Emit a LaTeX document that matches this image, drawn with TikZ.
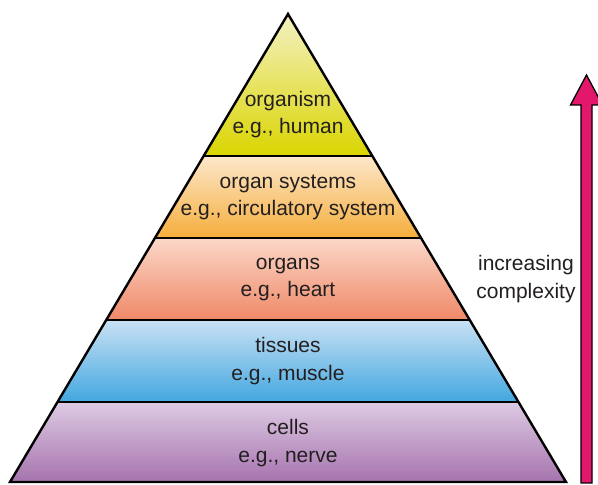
\documentclass[tikz,border=0pt]{standalone}
\usepackage{fontspec}
\setmainfont{Liberation Sans}
\begin{document}
\begin{tikzpicture}[x=1pt,y=1pt,
  lbl/.style={align=center,text=txt,font=\fontsize{21}{27.5}\selectfont,inner sep=0pt},
  edge/.style={draw=black,line width=2.4pt,line join=miter}]
\definecolor{txt}{HTML}{231F20}
\definecolor{yelT}{HTML}{F4F1C4}\definecolor{yelB}{HTML}{DAD500}
\definecolor{orT}{HTML}{FDE7CB}\definecolor{orB}{HTML}{F5AE3C}
\definecolor{rdT}{HTML}{FBD8C8}\definecolor{rdB}{HTML}{EF8867}
\definecolor{blT}{HTML}{C9E1F4}\definecolor{blB}{HTML}{42A7E0}
\definecolor{puT}{HTML}{DDCAE3}\definecolor{puB}{HTML}{A673AE}
\definecolor{arr}{HTML}{E3186C}
\useasboundingbox (0,0) rectangle (598,485);
% layers
\shade[top color=yelT,bottom color=yelB] (288,471) -- (372.35,329) -- (203.65,329) -- cycle;
\shade[top color=orT,bottom color=orB] (203.65,329) -- (372.35,329) -- (421.06,247) -- (154.94,247) -- cycle;
\shade[top color=rdT,bottom color=rdB] (154.94,247) -- (421.06,247) -- (469.77,165) -- (106.23,165) -- cycle;
\shade[top color=blT,bottom color=blB] (106.23,165) -- (469.77,165) -- (518.48,83) -- (57.52,83) -- cycle;
\shade[top color=puT,bottom color=puB] (57.52,83) -- (518.48,83) -- (566,3) -- (10,3) -- cycle;
% outlines
\draw[edge] (288,471) -- (566,3) -- (10,3) -- cycle;
\draw[edge] (203.65,329) -- (372.35,329);
\draw[edge] (154.94,247) -- (421.06,247);
\draw[edge] (106.23,165) -- (469.77,165);
\draw[edge] (57.52,83) -- (518.48,83);
% labels
\node[lbl] (l1) at (288,370.5) {organism\\e.g., human};
\node[lbl] (l2) at (288,287.5) {organ systems\\e.g., circulatory system};
\node[lbl] (l3) at (288,205.5) {organs\\e.g., heart};
\node[lbl] (l4) at (288,124) {tissues\\e.g., muscle};
\node[lbl] (l5) at (288,42) {cells\\e.g., nerve};
\node[lbl] (inc) at (526,206) {increasing\\complexity};
% arrow
\draw[fill=arr,draw=black,line width=1.3pt,line join=miter]
  (581,2) -- (581,380) -- (570.5,380) -- (586.5,410) -- (602.5,380) -- (592,380) -- (592,2) -- cycle;
\end{tikzpicture}
\end{document}
